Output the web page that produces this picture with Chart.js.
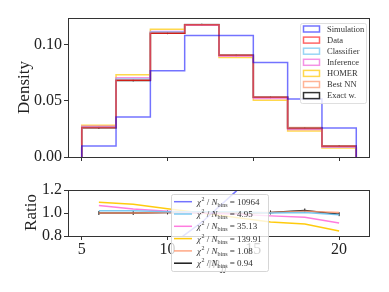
<!DOCTYPE html>
<html><head><meta charset="utf-8">
<script src="https://cdn.jsdelivr.net/npm/chart.js@4.4.1/dist/chart.umd.min.js"></script>
<style>
html,body{margin:0;padding:0;background:#fff;}
#wrap{position:relative;width:389px;height:292px;}
canvas{position:absolute;left:0;}
</style></head>
<body><div id="wrap">
<canvas id="top" width="389" height="170" style="top:0"></canvas>
<canvas id="bot" width="389" height="122" style="top:170px"></canvas>
</div>
<script>
// ---- data ----
const binEdges = [5, 7, 9, 11, 13, 15, 17, 19, 21];
const binCenters = [6, 8, 10, 12, 14, 16, 18, 20];
const xTicks = [5, 10, 15, 20];
const seriesNames = ["Simulation", "Data", "Classifier", "Inference", "HOMER", "Best NN", "Exact w."];
const simulation = [0.0098, 0.0355, 0.0767, 0.108, 0.108, 0.084, 0.0516, 0.0257];
const dataHist   = [0.0261, 0.0681, 0.1100, 0.1175, 0.0905, 0.0531, 0.0254, 0.0096];
const classifier = [0.0265, 0.0693, 0.1110, 0.1178, 0.0905, 0.0530, 0.0253, 0.0094];
const inference  = [0.0273, 0.0705, 0.1115, 0.1170, 0.0895, 0.0520, 0.0245, 0.0087];
const homer      = [0.0283, 0.0730, 0.1135, 0.1175, 0.0885, 0.0505, 0.0230, 0.0081];
const bestNN     = [0.0262, 0.0685, 0.1102, 0.1178, 0.0906, 0.0532, 0.0262, 0.0096];
const exactW     = [0.0260, 0.0680, 0.1100, 0.1176, 0.0904, 0.0531, 0.0257, 0.0095];
// ratios (model / data) at bin centers
const ratioSimulation = [0.38, 0.52, 0.70, 0.92, 1.19, 1.58, 2.02, 2.68];
const ratioClassifier = [1.02, 1.02, 1.01, 1.01, 1.01, 1.00, 1.005, 0.985];
const ratioInference  = [1.065, 1.034, 1.015, 1.00, 0.99, 0.975, 0.962, 0.914];
const ratioHomer      = [1.094, 1.077, 1.037, 1.00, 0.96, 0.922, 0.905, 0.843];
const ratioBestNN     = [1.00, 1.00, 1.005, 1.005, 1.005, 1.005, 1.015, 1.005];
const ratioExact      = [1.00, 1.00, 1.005, 1.005, 1.00, 1.005, 1.022, 0.99];
const chi2Labels = ["10964", "4.95", "35.13", "139.91", "1.08", "0.94"];

// ---- styles ----
const colors = {
  Simulation: 'rgba(0,0,255,0.55)',
  Data: 'rgba(255,0,0,0.6)',
  Classifier: 'rgba(110,195,240,0.7)',
  Inference: 'rgba(240,110,220,0.75)',
  HOMER: 'rgba(255,200,0,0.7)',
  'Best NN': 'rgba(255,130,80,0.6)',
  'Exact w.': 'rgba(0,0,0,0.8)'
};
const SERIF = '"Liberation Serif", "DejaVu Serif", serif';
Chart.defaults.font.family = SERIF;
Chart.defaults.color = '#222';

function stepPoints(vals) {
  const pts = [{x: binEdges[0], y: 0}];
  for (let i = 0; i < vals.length; i++) pts.push({x: binEdges[i], y: vals[i]});
  pts.push({x: binEdges[binEdges.length - 1], y: vals[vals.length - 1]});
  pts.push({x: binEdges[binEdges.length - 1], y: 0});
  return pts;
}
function centerPoints(vals) { return binCenters.map((c, i) => ({x: c, y: vals[i]})); }

const frame = {
  id: 'frame',
  afterDatasetsDraw(chart) {
    const a = chart.chartArea, ctx = chart.ctx;
    ctx.save();
    ctx.strokeStyle = '#333'; ctx.lineWidth = 1;
    ctx.strokeRect(Math.round(a.left) + 0.5, Math.round(a.top) + 0.5, Math.round(a.right - a.left) - 1, Math.round(a.bottom - a.top));
    ctx.restore();
  }
};

function xScale(showLabels, h) {
  return {
    type: 'linear', min: 4.2, max: 21.8,
    afterBuildTicks: s => { s.ticks = xTicks.map(v => ({value: v})); },
    afterFit: s => { s.height = h; },
    grid: {display: true, drawOnChartArea: false, drawTicks: true, tickLength: 4, color: '#333'},
    border: {display: false},
    ticks: {padding: 0, font: {size: 16}, color: '#222', maxRotation: 0,
            callback: v => showLabels ? String(v) : ''}
  };
}

// ---- top chart ----
const histSeries = [simulation, dataHist, classifier, inference, homer, bestNN, exactW];
const topDatasets = seriesNames.map((n, i) => ({
  label: n, data: stepPoints(histSeries[i]), stepped: 'before',
  borderColor: n === 'Exact w.' ? 'rgba(0,0,0,0.85)' : colors[n], borderWidth: 1.5, pointRadius: 0, fill: false
}));
topDatasets.push({label: 'err', data: centerPoints(exactW), showLine: false,
  pointStyle: 'line', rotation: 90, pointRadius: 1, borderColor: 'rgba(0,0,0,0.8)', borderWidth: 1});

const topLegend = {
  id: 'topLegend',
  afterDraw(chart) {
    const ctx = chart.ctx;
    ctx.save();
    ctx.fillStyle = 'rgba(255,255,255,0.8)';
    ctx.strokeStyle = 'rgba(220,220,220,0.9)'; ctx.lineWidth = 1;
    ctx.beginPath(); ctx.roundRect(300.5, 23.5, 66, 80, 2); ctx.fill(); ctx.stroke();
    ctx.font = '8.5px ' + SERIF; ctx.textBaseline = 'middle'; ctx.fillStyle = '#333';
    seriesNames.forEach((n, i) => {
      const y = 29 + i * 11.1;
      ctx.strokeStyle = colors[n]; ctx.lineWidth = 1.5;
      ctx.strokeRect(303.5, y - 3, 16, 6);
      ctx.fillText(n, 327, y + 0.5);
    });
    // y title
    ctx.translate(25, 87.5); ctx.rotate(-Math.PI / 2);
    ctx.font = '17px ' + SERIF; ctx.textAlign = 'center'; ctx.fillStyle = '#222';
    ctx.fillText('Density', 0, 0);
    ctx.restore();
  }
};

new Chart(document.getElementById('top'), {
  type: 'line',
  data: {datasets: topDatasets},
  options: {
    responsive: false, animation: false, devicePixelRatio: 1,
    layout: {padding: {left: 0, top: 18, right: 19, bottom: 0}},
    plugins: {legend: {display: false}, tooltip: {enabled: false}},
    scales: {
      x: xScale(false, 13),
      y: {
        min: 0, max: 0.1235,
        afterBuildTicks: s => { s.ticks = [0, 0.05, 0.10].map(v => ({value: v})); },
        afterFit: s => { s.width = 68; },
        grid: {display: true, drawOnChartArea: false, drawTicks: true, tickLength: 4, color: '#333'},
        border: {display: false},
        ticks: {padding: 2, font: {size: 16}, color: '#222', callback: v => v.toFixed(2)}
      }
    }
  },
  plugins: [frame, topLegend]
});

// ---- bottom chart ----
const ratioNames = ["Simulation", "Classifier", "Inference", "HOMER", "Best NN", "Exact w."];
const ratioColors = ['rgba(0,0,255,0.55)', 'rgba(110,195,240,0.9)', 'rgba(255,110,220,0.9)', 'rgba(255,200,0,0.95)', 'rgba(255,150,110,0.85)', 'rgba(0,0,0,0.9)'];
const ratioSeries = [ratioSimulation, ratioClassifier, ratioInference, ratioHomer, ratioBestNN, ratioExact];
const botDatasets = ratioNames.map((n, i) => ({
  label: n, data: centerPoints(ratioSeries[i]),
  borderColor: ratioColors[i], borderWidth: 1.5, pointRadius: 0, fill: false, tension: 0
}));
botDatasets[5].pointStyle = 'line'; botDatasets[5].rotation = 90; botDatasets[5].pointRadius = 2;
botDatasets[5].pointBorderColor = 'rgba(0,0,0,0.9)'; botDatasets[5].pointBorderWidth = 1;

const botLegend = {
  id: 'botLegend',
  afterDraw(chart) {
    const ctx = chart.ctx;
    ctx.save();
    // x title (partly hidden behind legend)
    ctx.fillStyle = '#222'; ctx.textBaseline = 'alphabetic';
    ctx.font = 'italic 17px ' + SERIF; ctx.fillText('m', 208, 98);
    ctx.font = 'italic 11px ' + SERIF; ctx.fillText('jj', 221, 101);
    // legend box
    ctx.fillStyle = 'rgba(255,255,255,0.8)';
    ctx.strokeStyle = 'rgba(210,210,210,0.9)'; ctx.lineWidth = 1;
    ctx.beginPath(); ctx.roundRect(171.5, 24.5, 97, 77, 2); ctx.fill(); ctx.stroke();
    ratioNames.forEach((n, i) => {
      const y = 31.7 + i * 12.3;
      ctx.strokeStyle = ratioColors[i]; ctx.lineWidth = 1.5;
      ctx.beginPath(); ctx.moveTo(174, y); ctx.lineTo(192, y); ctx.stroke();
      ctx.fillStyle = '#333'; ctx.textBaseline = 'alphabetic';
      let x = 197; const base = y + 3;
      ctx.font = 'italic 9px ' + SERIF; ctx.fillText('χ', x, base); x += ctx.measureText('χ').width + 0.5;
      ctx.font = '6px ' + SERIF; ctx.fillText('2', x, base - 4); x += ctx.measureText('2').width;
      ctx.font = '9px ' + SERIF; ctx.fillText(' / ', x, base); x += ctx.measureText(' / ').width;
      ctx.font = 'italic 9px ' + SERIF; ctx.fillText('N', x, base); x += ctx.measureText('N').width;
      ctx.font = '6px ' + SERIF; ctx.fillText('bins', x, base + 2); x += ctx.measureText('bins').width;
      ctx.font = '9px ' + SERIF; ctx.fillText(' = ' + chi2Labels[i], x, base);
    });
    // y title
    ctx.translate(32, 42.5); ctx.rotate(-Math.PI / 2);
    ctx.font = '17px ' + SERIF; ctx.textAlign = 'center'; ctx.fillStyle = '#222'; ctx.textBaseline = 'middle';
    ctx.fillText('Ratio', 0, 0);
    ctx.restore();
  }
};

new Chart(document.getElementById('bot'), {
  type: 'line',
  data: {datasets: botDatasets},
  options: {
    responsive: false, animation: false, devicePixelRatio: 1,
    layout: {padding: {left: 0, top: 20, right: 19, bottom: 36}},
    plugins: {legend: {display: false}, tooltip: {enabled: false}},
    scales: {
      x: xScale(true, 20),
      y: {
        min: 0.8, max: 1.2,
        afterBuildTicks: s => { s.ticks = [0.8, 1.0, 1.2].map(v => ({value: v})); },
        afterFit: s => { s.width = 68; },
        grid: {display: true, drawOnChartArea: false, drawTicks: true, tickLength: 4, color: '#333'},
        border: {display: false},
        ticks: {padding: 2, font: {size: 16}, color: '#222', callback: v => v.toFixed(1)}
      }
    }
  },
  plugins: [frame, botLegend]
});
</script>
</body></html>
